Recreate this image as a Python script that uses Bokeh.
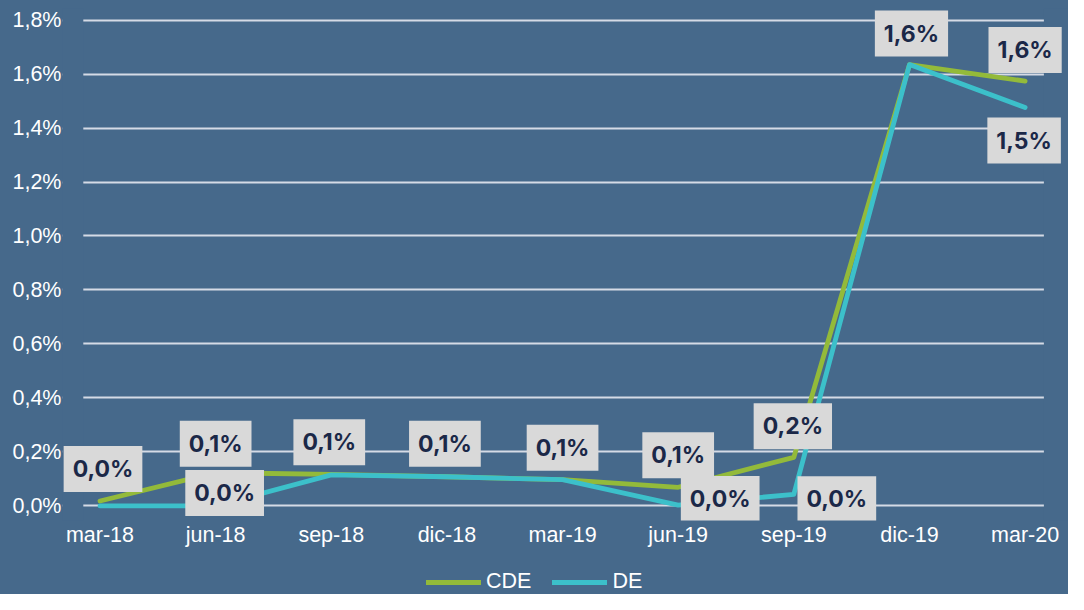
from bokeh.plotting import figure
from bokeh.layouts import column
from bokeh.models import (ColumnDataSource, FixedTicker, Range1d, Legend, LegendItem, BoxAnnotation)
from bokeh.core.properties import value
from bokeh.embed import file_html
from bokeh.resources import INLINE

# ---- data ----
categories = ["mar-18", "jun-18", "sep-18", "dic-18", "mar-19", "jun-19", "sep-19", "dic-19", "mar-20"]
cde = [0.018, 0.123, 0.117, 0.108, 0.097, 0.069, 0.180, 1.635, 1.574]
de = [0.000, 0.000, 0.115, 0.108, 0.097, 0.003, 0.043, 1.635, 1.476]
y_ticks = [0.0, 0.2, 0.4, 0.6, 0.8, 1.0, 1.2, 1.4, 1.6, 1.8]
de_label_idx = [1, 5, 6, 8]
series_names = ["CDE", "DE"]

# ---- style ----
BG = "#46698B"
GREEN = "#93BA3A"
CYAN = "#3CC0CA"
GRID = "#D5DBE6"
BOX = "#D9D9D9"
LABEL_TXT = "#1B2848"

def fmt(v):
    return f"{v:.1f}".replace(".", ",") + "%"

x = list(range(len(categories)))

W = 1068
X0, X1 = -0.3243, 8.3752        # visible frame range
GX0, GX1 = -0.1444, 8.1624      # extent of the gridlines

p = figure(width=W, height=550, output_backend="svg", toolbar_location=None,
           x_range=Range1d(X0, X1), y_range=Range1d(-0.0541, 1.8429),
           min_border_left=62, min_border_right=0, min_border_top=8, min_border_bottom=30)
p.background_fill_color = None
p.border_fill_color = None
p.styles = {"background-color": BG}
p.outline_line_color = None

p.xgrid.grid_line_color = None
p.ygrid.grid_line_color = GRID
p.ygrid.grid_line_width = 2
p.ygrid.ticker = FixedTicker(ticks=y_ticks)
p.ygrid.level = "image"

# mask the gridlines outside the plot area
p.add_layout(BoxAnnotation(right=GX0, fill_color=BG, fill_alpha=1, line_color=None, level="underlay"))
p.add_layout(BoxAnnotation(left=GX1, fill_color=BG, fill_alpha=1, line_color=None, level="underlay"))

p.yaxis.ticker = FixedTicker(ticks=y_ticks)
p.yaxis.major_label_overrides = {t: fmt(t) for t in y_ticks}
p.xaxis.ticker = FixedTicker(ticks=x)
p.xaxis.major_label_overrides = {i: c for i, c in zip(x, categories)}
for ax in (p.xaxis, p.yaxis):
    ax.axis_line_color = None
    ax.major_tick_line_color = None
    ax.minor_tick_line_color = None
    ax.major_tick_out = 0
    ax.major_tick_in = 0
    ax.major_label_text_color = "white"
    ax.major_label_text_font = "Liberation Sans"
    ax.major_label_text_font_size = "21.5px"
p.yaxis.major_label_standoff = 1
p.xaxis.major_label_standoff = 2

src = ColumnDataSource(dict(x=x, cde=cde, de=de))
p.line("x", "cde", source=src, line_color=GREEN, line_width=4.8, line_join="round", line_cap="round")
p.line("x", "de", source=src, line_color=CYAN, line_width=4.8, line_join="round", line_cap="round")

cde_src = ColumnDataSource(dict(
    x=x, y=cde, t=[fmt(v) for v in cde],
    dx=[3, 0, -2, -2, 0, 0, -1, 2, 0],
    dy=[-32, -29, -32, -33, -32, -32, -31, -31, -31]))
de_src = ColumnDataSource(dict(
    x=[x[i] for i in de_label_idx], y=[de[i] for i in de_label_idx],
    t=[fmt(de[i]) for i in de_label_idx],
    dx=[9, 42, 43, -1],
    dy=[-13, -6, 5, 33]))

for s in (cde_src, de_src):
    p.text(x="x", y="y", text="t", source=s, x_offset="dx", y_offset="dy",
           text_align="center", text_baseline="middle",
           text_font=value("Inter"), text_font_style="bold", text_font_size="23px",
           text_color=LABEL_TXT, background_fill_color=BOX, padding=9)

# ---- legend strip (same series, drawn out of view so only the legend shows) ----
q = figure(width=W, height=44, output_backend="svg", toolbar_location=None,
           x_range=Range1d(0, 1), y_range=Range1d(10, 11),
           min_border_left=0, min_border_right=0, min_border_top=0, min_border_bottom=0)
q.axis.visible = False
q.grid.visible = False
q.background_fill_color = None
q.border_fill_color = None
q.styles = {"background-color": BG}
q.outline_line_color = None
l1 = q.line("x", "cde", source=src, line_color=GREEN, line_width=5, line_cap="round")
l2 = q.line("x", "de", source=src, line_color=CYAN, line_width=5, line_cap="round")
legend = Legend(items=[LegendItem(label=series_names[0], renderers=[l1]),
                       LegendItem(label=series_names[1], renderers=[l2])],
                orientation="horizontal", location=(364, 0),
                background_fill_alpha=0, border_line_color=None,
                label_text_color="white", label_text_font="Liberation Sans",
                label_text_font_size="21.5px", glyph_width=55, glyph_height=20,
                label_standoff=5, spacing=21, padding=0, margin=0)
q.add_layout(legend, "center")

layout = column(p, q, spacing=0, styles={"background-color": BG})
open("out.html", "w").write(file_html(layout, INLINE))
